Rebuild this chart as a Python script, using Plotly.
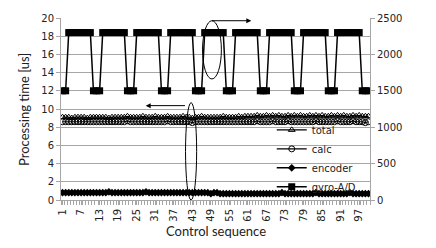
import plotly.graph_objects as go

seq = list(range(1, 101))
tick_vals = list(range(1, 101, 6))
tick_text = [str(v) for v in tick_vals]

total = [9.1, 9.1, 9.1, 9.0, 9.1, 9.1, 9.1, 9.1, 9.0, 9.1,
         9.1, 9.1, 9.1, 9.1, 9.1, 9.0, 9.1, 9.1, 9.1, 9.1,
         9.1, 9.2, 9.1, 9.1, 9.1, 9.1, 9.2, 9.1, 9.1, 9.1,
         9.2, 9.1, 9.1, 9.1, 9.2, 9.1, 9.1, 9.1, 9.1, 9.2,
         9.1, 9.1, 9.0, 9.1, 9.1, 9.2, 9.1, 9.1, 9.1, 9.1,
         9.1, 9.1, 9.2, 9.1, 9.1, 9.1, 9.1, 9.2, 9.1, 9.2,
         9.2, 9.2, 9.2, 9.3, 9.2, 9.2, 9.3, 9.2, 9.3, 9.2,
         9.3, 9.2, 9.2, 9.3, 9.2, 9.3, 9.2, 9.3, 9.2, 9.2,
         9.3, 9.2, 9.3, 9.2, 9.3, 9.2, 9.2, 9.3, 9.2, 9.3,
         9.2, 9.3, 9.2, 9.2, 9.3, 9.2, 9.3, 9.2, 9.2, 9.2]

calc = [8.6, 8.6, 8.6, 8.6, 8.6, 8.6, 8.6, 8.6, 8.6, 8.6,
        8.6, 8.6, 8.6, 8.6, 8.6, 8.6, 8.6, 8.6, 8.6, 8.6,
        8.6, 8.7, 8.6, 8.6, 8.6, 8.6, 8.6, 8.6, 8.6, 8.6,
        8.6, 8.6, 8.6, 8.6, 8.7, 8.6, 8.6, 8.6, 8.6, 8.6,
        8.6, 8.6, 8.5, 8.6, 8.6, 8.6, 8.6, 8.6, 8.6, 8.6,
        8.6, 8.6, 8.6, 8.6, 8.6, 8.6, 8.6, 8.6, 8.6, 8.6,
        8.6, 8.6, 8.6, 8.7, 8.6, 8.6, 8.6, 8.6, 8.7, 8.6,
        8.6, 8.6, 8.6, 8.7, 8.6, 8.6, 8.6, 8.6, 8.6, 8.6,
        8.6, 8.6, 8.7, 8.6, 8.6, 8.6, 8.6, 8.6, 8.6, 8.7,
        8.6, 8.6, 8.6, 8.6, 8.7, 8.6, 8.6, 8.6, 8.5, 8.6]

encoder = [0.8, 0.8, 0.8, 0.8, 0.8, 0.8, 0.8, 0.8, 0.8, 0.8,
           0.8, 0.8, 0.8, 0.8, 0.8, 0.9, 0.8, 0.8, 0.8, 0.8,
           0.8, 0.8, 0.8, 0.8, 0.8, 0.8, 0.8, 0.9, 0.8, 0.8,
           0.8, 0.8, 0.8, 0.8, 0.8, 0.8, 0.8, 0.8, 0.8, 0.8,
           0.8, 0.8, 0.8, 0.8, 0.8, 0.8, 0.8, 0.8, 0.7, 0.8,
           0.8, 0.7, 0.7, 0.7, 0.7, 0.7, 0.7, 0.7, 0.7, 0.7,
           0.7, 0.7, 0.7, 0.7, 0.7, 0.7, 0.7, 0.7, 0.7, 0.7,
           0.7, 0.8, 0.7, 0.7, 0.7, 0.7, 0.7, 0.7, 0.7, 0.7,
           0.7, 0.7, 0.8, 0.7, 0.7, 0.7, 0.7, 0.7, 0.7, 0.7,
           0.7, 0.7, 0.7, 0.8, 0.7, 0.7, 0.7, 0.7, 0.7, 0.7]

L, H = 1500, 2300
gyro = [L, L, H, H, H, H, H, H, H, H,
        L, L, L, H, H, H, H, H, H, H,
        H, L, L, L, H, H, H, H, H, H,
        H, H, L, L, L, H, H, H, H, H,
        H, H, H, L, L, L, H, H, H, H,
        H, H, H, L, L, L, H, H, H, H,
        H, H, H, H, L, L, L, H, H, H,
        H, H, H, H, H, L, L, L, H, H,
        H, H, H, H, H, H, L, L, L, H,
        H, H, H, H, H, H, H, L, L, L]

BLACK = "black"
GRID = "#a6a6a6"
TICKF = dict(family="DejaVu Sans", size=10, color="#222222")

fig = go.Figure()
fig.add_trace(go.Scatter(x=seq, y=total, name="total", mode="lines+markers",
                         line=dict(color=BLACK, width=1.2),
                         marker=dict(symbol="triangle-up-open", size=6, color=BLACK,
                                     line=dict(color=BLACK, width=1))))
fig.add_trace(go.Scatter(x=seq, y=calc, name="calc", mode="lines+markers",
                         line=dict(color=BLACK, width=1.2),
                         marker=dict(symbol="circle-open", size=6, color=BLACK,
                                     line=dict(color=BLACK, width=1))))
fig.add_trace(go.Scatter(x=seq, y=encoder, name="encoder", mode="lines+markers",
                         line=dict(color=BLACK, width=1.5),
                         marker=dict(symbol="diamond", size=6, color=BLACK)))
fig.add_trace(go.Scatter(x=seq, y=gyro, name="gyro-A/D", mode="lines+markers",
                         yaxis="y2",
                         line=dict(color=BLACK, width=1.5),
                         marker=dict(symbol="square", size=7, color=BLACK)))

fig.update_layout(
    width=436, height=248,
    margin=dict(l=61, r=66, t=12, b=48),
    paper_bgcolor="white", plot_bgcolor="white",
    showlegend=True,
    legend=dict(x=0.682, y=0.465, xanchor="left", yanchor="top",
                bgcolor="rgba(0,0,0,0)", font=dict(family="DejaVu Sans", size=10, color="#222222"),
                tracegroupgap=0, itemwidth=30),
    xaxis=dict(range=[0.5, 100.5], tickmode="array", tickvals=tick_vals, ticktext=tick_text,
               tickangle=-90, tickfont=TICKF, showgrid=False, zeroline=False,
               showline=True, linecolor=GRID, linewidth=1,
               ticks="outside", ticklen=4, tickcolor=GRID,
               minor=dict(ticks="outside", ticklen=4, tickcolor=GRID, dtick=1, tick0=0.5, showgrid=False)),
    yaxis=dict(range=[0, 20], dtick=2, tickfont=TICKF, showgrid=True, gridcolor=GRID,
               gridwidth=1, zeroline=False, showline=True, linecolor=GRID, linewidth=1,
               ticks="outside", ticklen=4, tickcolor=GRID),
    yaxis2=dict(range=[0, 2500], dtick=500, overlaying="y", side="right", tickfont=TICKF,
                showgrid=False, zeroline=False, showline=True, linecolor=GRID, linewidth=1,
                ticks="outside", ticklen=4, tickcolor=GRID),
    annotations=[
        dict(text="Processing time [us]", xref="paper", yref="paper", x=-0.12, y=0.5,
             xanchor="center", yanchor="middle", textangle=-90, showarrow=False,
             font=dict(family="Lato", size=13, color="#222222")),
        dict(text="Control sequence", xref="paper", yref="paper", x=0.5, y=-0.17,
             xanchor="center", yanchor="middle", showarrow=False,
             font=dict(family="Lato", size=13, color="#222222")),
        dict(x=27.9, y=10.37, ax=41.1, ay=10.37, xref="x", yref="y", axref="x", ayref="y",
             showarrow=True, arrowhead=2, arrowsize=1, arrowwidth=1, arrowcolor=BLACK, text=""),
        dict(x=62.1, y=19.7, ax=48.9, ay=19.7, xref="x", yref="y", axref="x", ayref="y",
             showarrow=True, arrowhead=2, arrowsize=1, arrowwidth=1, arrowcolor=BLACK, text=""),
    ],
    shapes=[
        dict(type="circle", xref="x", yref="y", x0=40.8, x1=44.4, y0=0.0, y1=10.7,
             line=dict(color=BLACK, width=1)),
        dict(type="circle", xref="x", yref="y", x0=46.3, x1=52.4, y0=13.3, y1=19.7,
             line=dict(color=BLACK, width=1)),
    ],
)

fig.write_html("out.html")
